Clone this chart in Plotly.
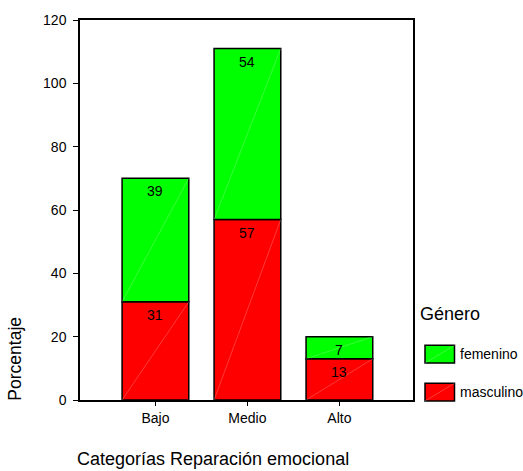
import plotly.graph_objects as go

# Data
categorias = ["Bajo", "Medio", "Alto"]
masculino = [31, 57, 13]
femenino = [39, 54, 7]
series_names = ["masculino", "femenino"]
series_colors = ["#ff0000", "#00ff00"]
y_ticks = [0, 20, 40, 60, 80, 100, 120]

FONT = "Liberation Sans, Arial, Helvetica, sans-serif"
BAR_W = 0.725
DIAG = "rgba(255,255,255,0.32)"
xpos = list(range(len(categorias)))

fig = go.Figure()
series_vals = [masculino, femenino]
bases = [[0] * len(categorias), masculino]
for name, vals, base, color in zip(series_names, series_vals, bases, series_colors):
    fig.add_trace(go.Bar(
        x=xpos, y=vals, base=base, name=name, width=BAR_W,
        marker=dict(color=color, line=dict(color="black", width=1.5)),
        showlegend=False, hoverinfo="y",
    ))

shapes = []
annotations = []
# faint diagonal line across each segment, plus the value label near its top
for vals, base in zip(series_vals, bases):
    for i, (v, b) in enumerate(zip(vals, base)):
        shapes.append(dict(type="line", xref="x", yref="y",
                           x0=i - BAR_W / 2, y0=b, x1=i + BAR_W / 2, y1=b + v,
                           line=dict(color=DIAG, width=0.7),
                           layer="above"))
        annotations.append(dict(x=i, y=b + v, xref="x", yref="y", text=str(v),
                                showarrow=False, yanchor="middle", yshift=-13,
                                font=dict(family=FONT, size=14, color="black")))

# legend drawn as boxes in paper coordinates
PW, PH = 523 - 80 - 110, 471 - 14 - 71
def px_x(px):
    return (px - 80) / PW
def px_y(py):
    return (400 - py) / PH

annotations.append(dict(x=px_x(418), y=px_y(313), xref="paper", yref="paper",
                        text="Género", showarrow=False, xanchor="left", yanchor="middle",
                        font=dict(family=FONT, size=18, color="black")))
legend_items = [("femenino", "#00ff00", 344.5, 362.5), ("masculino", "#ff0000", 383, 401)]
for name, color, top, bot in legend_items:
    shapes.append(dict(type="rect", xref="paper", yref="paper",
                       x0=px_x(425), x1=px_x(454.5), y0=px_y(bot), y1=px_y(top),
                       fillcolor=color, line=dict(color="black", width=1.5)))
    shapes.append(dict(type="line", xref="paper", yref="paper",
                       x0=px_x(425), x1=px_x(454.5), y0=px_y(bot), y1=px_y(top),
                       line=dict(color=DIAG, width=0.7)))
    annotations.append(dict(x=px_x(457.5), y=px_y((top + bot) / 2), xref="paper", yref="paper",
                            text=name, showarrow=False, xanchor="left", yanchor="middle",
                            font=dict(family=FONT, size=14, color="black")))

# axis titles
annotations.append(dict(x=px_x(213), y=px_y(460), xref="paper", yref="paper",
                        text="Categorías Reparación emocional", showarrow=False,
                        xanchor="center", yanchor="middle",
                        font=dict(family=FONT, size=18, color="black")))
annotations.append(dict(x=px_x(15), y=px_y(358), xref="paper", yref="paper",
                        text="Porcentaje", showarrow=False, textangle=-90,
                        xanchor="center", yanchor="middle",
                        font=dict(family=FONT, size=17.5, color="black")))

fig.update_layout(
    width=523, height=471,
    margin=dict(l=80, r=110, t=14, b=71),
    paper_bgcolor="white", plot_bgcolor="white",
    barmode="overlay",
    shapes=shapes, annotations=annotations,
    font=dict(family=FONT, size=14, color="black"),
    xaxis=dict(range=[-0.82, 2.8], tickvals=xpos, ticktext=categorias,
               showgrid=False, zeroline=False, showline=True, mirror=True,
               linecolor="black", linewidth=1.5, ticks="outside", ticklen=4,
               tickcolor="black", tickfont=dict(family=FONT, size=14)),
    yaxis=dict(range=[0, 120], tickvals=y_ticks, showgrid=False, zeroline=False,
               showline=True, mirror=True, linecolor="black", linewidth=1.5,
               ticks="outside", ticklen=5, tickcolor="black", ticklabelstandoff=4,
               tickfont=dict(family=FONT, size=14)),
)

fig.write_html("out.html")
